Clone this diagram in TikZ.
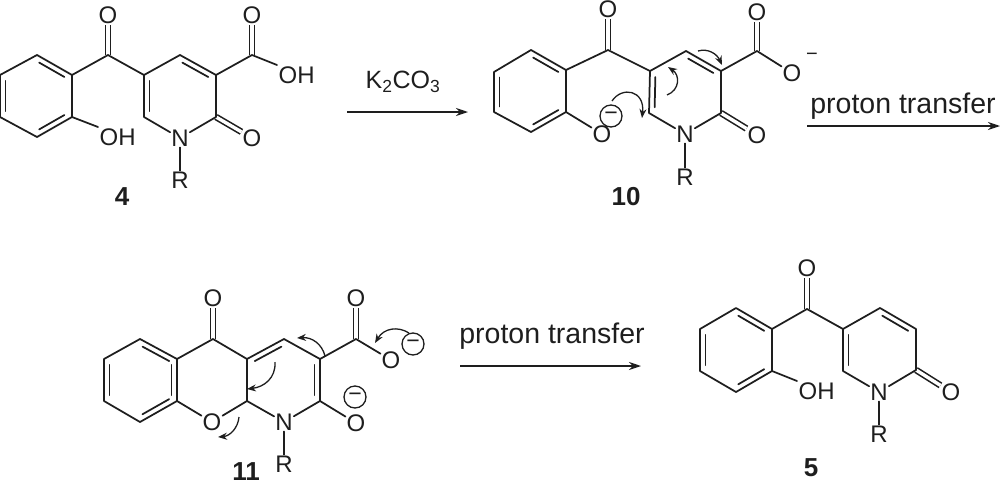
\documentclass[tikz,border=0pt]{standalone}
\usepackage{fontspec}
\setmainfont{Liberation Sans}
\usetikzlibrary{calc,arrows.meta}
\definecolor{ink}{HTML}{1E1E1E}
\newcommand{\ringbond}[2]{\draw[bond] ($(#1)!.14!(#2)!5.5pt!-90:(#2)$) -- ($(#2)!.14!(#1)!5.5pt!90:(#1)$);}
\tikzset{
  bond/.style={draw=ink,line width=1.75pt,line cap=round,line join=round},
  dblbond/.style={draw=ink,line width=1.6pt,double=white,double distance=3.4pt},
  atom/.style={text=ink,inner sep=1pt,font=\fontsize{24}{26}\selectfont},
  hetero/.style={atom,anchor=north west,inner sep=1.5pt},
  cpd/.style={text=ink,inner sep=0pt,font=\fontsize{26}{28}\selectfont\bfseries},
  rxnlabel/.style={text=ink,inner sep=0pt,font=\fontsize{28.5}{31}\selectfont},
  reagent/.style={text=ink,inner sep=0pt,font=\fontsize{25}{27}\selectfont},
  rxnarrow/.style={draw=ink,line width=1.5pt,-{Stealth[length=12pt,width=8pt]}},
  curly/.style={draw=ink,line width=1.3pt,-{Stealth[length=9pt,width=7pt]}},
  charge/.style={draw=ink,line width=1.3pt,circle,minimum size=22pt,inner sep=0pt,text=ink,font=\fontsize{23}{25}\selectfont},
}
\begin{document}
\begin{tikzpicture}[x=1pt,y=-1pt]
\useasboundingbox (0,0) rectangle (1000,485);

% ---------- compound 4
\foreach \n/\p in {a1/{0,75},a2/{37,55},a3/{72,75},a4/{72,117},a5/{37,137},a6/{0,117},
  ac/{108,55},ar1/{144,75},ar2/{180,55},ar3/{216,75},ar4/{216,117},ar6/{144,117},acc/{252,55}}
  {\coordinate (\n) at (\p);}
\node[atom] (ao1) at (108,15) {O};
\node[atom] (ao2) at (252,15) {O};
\node[atom] (ao3) at (252,138) {O};
\node[atom] (an) at (180,138) {N};
\node[atom] (ar) at (180,180) {R};
\node[hetero] (aoh) at (98,127) {OH};
\node[hetero] (aoh2) at (277,65) {OH};
\node[cpd] (al) at (122,197) {4};
\draw[dblbond] (ac) -- (ao1);
\draw[dblbond] (acc) -- (ao2);
\draw[dblbond] (ar4) -- (ao3);
\draw[bond] (a1) -- (a2) -- (a3) -- (a4) -- (a5) -- (a6) -- cycle;
\ringbond{a2}{a3}\ringbond{a4}{a5}\ringbond{a6}{a1}
\draw[bond] (a3) -- (ac) -- (ar1) -- (ar2) -- (ar3) -- (ar4) -- (an) -- (ar6) -- (ar1);
\ringbond{ar2}{ar3}\ringbond{ar6}{ar1}
\draw[bond] (ar3) -- (acc) -- (aoh2.north west);
\draw[bond] (a4) -- (aoh.north west);
\draw[bond] (an) -- (ar);

% ---------- arrow 1
\coordinate (s1) at (347,112);
\coordinate (e1) at (468,112);
\node[reagent] (k) at (403,82) {K\textsubscript{2}CO\textsubscript{3}};
\draw[rxnarrow] (s1) -- (e1);

% ---------- compound 10
\foreach \n/\p in {b1/{494,72},b2/{531,50},b3/{566,70},b4/{566,112},b5/{531,132},b6/{494,112},
  bc/{608,50},br1/{650,71},br2/{686,51},br3/{721,71},br4/{721,113},br6/{649,113},bcc/{757,51}}
  {\coordinate (\n) at (\p);}
\node[atom] (bo1) at (608,9) {O};
\node[atom] (bo2) at (757,12) {O};
\node[atom] (bo3) at (757,135) {O};
\node[atom] (bo4) at (792,73) {O};
\node[atom] (bo5) at (602,134) {O};
\node[atom] (bn) at (685,134) {N};
\node[atom] (br) at (685,177) {R};
\node[text=ink,inner sep=0pt,font=\fontsize{20}{22}\selectfont] (bm) at (812,57) {−};
\node[charge] (bq) at (611,116) {−};
\node[cpd] (bl) at (626,197) {10};
\draw[dblbond] (bc) -- (bo1);
\draw[dblbond] (bcc) -- (bo2);
\draw[dblbond] (br4) -- (bo3);
\draw[bond] (b1) -- (b2) -- (b3) -- (b4) -- (b5) -- (b6) -- cycle;
\ringbond{b2}{b3}\ringbond{b4}{b5}\ringbond{b6}{b1}
\draw[bond] (b3) -- (bc) -- (br1) -- (br2) -- (br3) -- (br4) -- (bn) -- (br6) -- (br1);
\ringbond{br2}{br3}\ringbond{br6}{br1}
\draw[bond] (br3) -- (bcc) -- (bo4);
\draw[bond] (b4) -- (bo5);
\draw[bond] (bn) -- (br);
\coordinate (bc1) at (612,101); \coordinate (bc2) at (642,118);
\coordinate (bc3) at (667,95);  \coordinate (bc4) at (668,67);
\coordinate (bc5) at (698,51);  \coordinate (bc6) at (722,65);
\draw[curly] (bc1) .. controls (622,86) and (645,90) .. (bc2);
\draw[curly] (bc3) .. controls (680,90) and (680,75) .. (bc4);
\draw[curly] (bc5) .. controls (708,48) and (717,54) .. (bc6);

% ---------- arrow 2
\coordinate (s2) at (807,126);
\coordinate (e2) at (1000,126);
\node[rxnlabel] (p1) at (903,106) {proton transfer};
\draw[rxnarrow] (s2) -- (e2);

% ---------- compound 11
\foreach \n/\p in {c1/{104,359},c2/{140,339},c3/{177,359},c4/{177,401},c5/{140,422},c6/{104,401},
  cc/{213,339},cr1/{247,359},cr2/{284,339},cr3/{320,359},cr4/{320,401},cr6/{247,401},ccc/{356,339}}
  {\coordinate (\n) at (\p);}
\node[atom] (co1) at (213,298) {O};
\node[atom] (co2) at (356,298) {O};
\node[atom] (co3) at (391,360) {O};
\node[atom] (co4) at (356,423) {O};
\node[atom] (co5) at (212,422) {O};
\node[atom] (cn) at (284,422) {N};
\node[atom] (cr) at (284,464) {R};
\node[charge] (cq1) at (413,344) {−};
\node[charge] (cq2) at (355,397) {−};
\node[cpd] (cl) at (246,472) {11};
\draw[dblbond] (cc) -- (co1);
\draw[dblbond] (ccc) -- (co2);
\draw[bond] (c1) -- (c2) -- (c3) -- (c4) -- (c5) -- (c6) -- cycle;
\ringbond{c2}{c3}\ringbond{c4}{c5}\ringbond{c6}{c1}
\ringbond{c3}{c4}
\draw[bond] (c3) -- (cc) -- (cr1) -- (cr2) -- (cr3) -- (cr4) -- (cn) -- (cr6) -- (cr1);
\draw[bond] (c4) -- (co5) -- (cr6);
\ringbond{cr1}{cr2}\ringbond{cr3}{cr4}
\draw[bond] (cr3) -- (ccc) -- (co3);
\draw[bond] (cr4) -- (co4);
\draw[bond] (cn) -- (cr);
\coordinate (cc1) at (409,333); \coordinate (cc2) at (375,343);
\coordinate (cc3) at (325,356); \coordinate (cc4) at (297,338);
\coordinate (cc5) at (275,362); \coordinate (cc6) at (247,389);
\coordinate (cc7) at (239,417); \coordinate (cc8) at (218,437);
\draw[curly] (cc1) .. controls (398,326) and (384,328) .. (cc2);
\draw[curly] (cc3) .. controls (322,344) and (312,337) .. (cc4);
\draw[curly] (cc5) .. controls (276,378) and (264,387) .. (cc6);
\draw[curly] (cc7) .. controls (238,428) and (230,436) .. (cc8);

% ---------- arrow 3
\coordinate (s3) at (460,366);
\coordinate (e3) at (641,366);
\node[rxnlabel] (p2) at (552,336) {proton transfer};
\draw[rxnarrow] (s3) -- (e3);

% ---------- compound 5
\foreach \n/\p in {d1/{700,329},d2/{736,308},d3/{772,329},d4/{772,371},d5/{736,392},d6/{700,371},
  dc/{807,309},dr1/{843,329},dr2/{880,308},dr3/{916,329},dr4/{916,370},dr6/{843,371}}
  {\coordinate (\n) at (\p);}
\node[atom] (do1) at (807,268) {O};
\node[atom] (do3) at (951,392) {O};
\node[atom] (dn) at (879,392) {N};
\node[atom] (dr) at (879,434) {R};
\node[hetero] (doh) at (797,381) {OH};
\node[cpd] (dl) at (811,468) {5};
\draw[dblbond] (dc) -- (do1);
\draw[dblbond] (dr4) -- (do3);
\draw[bond] (d1) -- (d2) -- (d3) -- (d4) -- (d5) -- (d6) -- cycle;
\ringbond{d2}{d3}\ringbond{d4}{d5}\ringbond{d6}{d1}
\draw[bond] (d3) -- (dc) -- (dr1) -- (dr2) -- (dr3) -- (dr4) -- (dn) -- (dr6) -- (dr1);
\ringbond{dr2}{dr3}\ringbond{dr6}{dr1}
\draw[bond] (d4) -- (doh.north west);
\draw[bond] (dn) -- (dr);
\end{tikzpicture}
\end{document}
